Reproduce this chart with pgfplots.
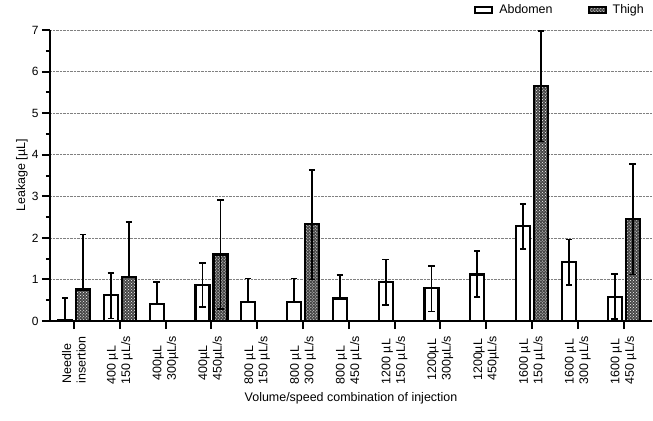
\documentclass[border=0pt]{standalone}
\usepackage{fontspec}
\setmainfont{Liberation Sans}
\usepackage{pgfplots}
\usepackage{pgfplotstable}
\pgfplotsset{compat=1.18}
\usetikzlibrary{patterns}
\pgfplotstableread{
x y ep em
0 0.02 0.53 0
1 0.62 0.54 0.56
2 0.40 0.54 0
3 0.86 0.54 0.52
4 0.46 0.56 0
5 0.46 0.56 0
6 0.54 0.56 0
7 0.94 0.54 0.55
8 0.79 0.53 0.56
9 1.12 0.56 0.54
10 2.28 0.54 0.54
11 1.42 0.54 0.55
12 0.58 0.55 0.54
}\abdomen
\pgfplotstableread{
x y ep em
0 0.76 1.32 0
1 1.06 1.32 0
3 1.60 1.32 1.32
5 2.34 1.30 1.34
10 5.66 1.32 1.34
12 2.46 1.32 1.34
}\thigh
\begin{document}
\begin{tikzpicture}
\useasboundingbox (-50bp,-100bp) rectangle (603bp,321bp);
\begin{axis}[
  at={(0,0)}, anchor=south west,
  scale only axis, width=602bp, height=291bp,
  xmin=-0.524, xmax=12.62, ymin=0, ymax=7,
  axis x line=bottom, axis y line=left,
  axis line style={-, line width=2bp},
  xtick={0,...,12},
  xticklabels={{Needle\\insertion},{400 µL\\150 µL/s},{400µL\\300µL/s},{400µL\\450µL/s},{800 µL\\150 µL/s},{800 µL\\300 µL/s},{800 µL\\450 µL/s},{1200 µL\\150 µL/s},{1200µL\\300µL/s},{1200µL\\450µL/s},{1600 µL\\150 µL/s},{1600 µL\\300 µL/s},{1600 µL\\450 µL/s}},
  xticklabel style={rotate=90, anchor=east, align=left, font=\fontsize{12.5}{14.5}\selectfont, inner sep=1bp},
  xticklabel shift=6bp,
  ytick={0,...,7}, minor y tick num=1,
  yticklabel style={font=\fontsize{12}{14}\selectfont},
  /pgf/number format/assume math mode=true,
  tick align=outside, major tick length=8bp, minor tick length=4bp,
  tick style={line width=2bp, black},
  ymajorgrids, major grid style={densely dotted, gray, line width=0.7bp},
  ylabel={Leakage [µL]},
  ylabel style={at={(axis description cs:-0.0465,0.5)}, anchor=center, font=\fontsize{12.5}{14}\selectfont},
  xlabel={Volume/speed combination of injection},
  xlabel style={at={(axis description cs:0.5,0)}, anchor=center, yshift=-77bp, font=\fontsize{12.5}{14}\selectfont},
  legend style={at={(rel axis cs:1,1)}, anchor=east, xshift=-3bp, yshift=20bp, draw=none, fill=none,
    legend columns=2, font=\fontsize{12.5}{14}\selectfont,
    /tikz/every even column/.append style={column sep=33bp}},
  legend image code/.code={\draw[#1, line width=2bp] (0bp,-3bp) rectangle (17bp,3bp); \path (21bp,0bp);},
  error bars/y dir=both, error bars/y explicit,
  error bars/error bar style={line width=1.8bp, black},
  error bars/error mark options={rotate=90, mark size=3.2bp, line width=1.8bp, black},
  clip=false,
]
\addplot[ybar, bar width=14bp, bar shift=0bp, draw=black, line width=2.2bp, fill=white]
  table[x expr=\thisrow{x}-0.1965, y=y, y error plus=ep, y error minus=em]{\abdomen};
\addlegendentry{Abdomen}
\addplot[ybar, bar width=14bp, bar shift=0bp, draw=black, line width=2.2bp, fill=black!72,
  postaction={pattern=crosshatch dots, pattern color=white}]
  table[x expr=\thisrow{x}+0.1965, y=y, y error plus=ep, y error minus=em]{\thigh};
\addlegendentry{Thigh}
\end{axis}
\end{tikzpicture}
\end{document}
